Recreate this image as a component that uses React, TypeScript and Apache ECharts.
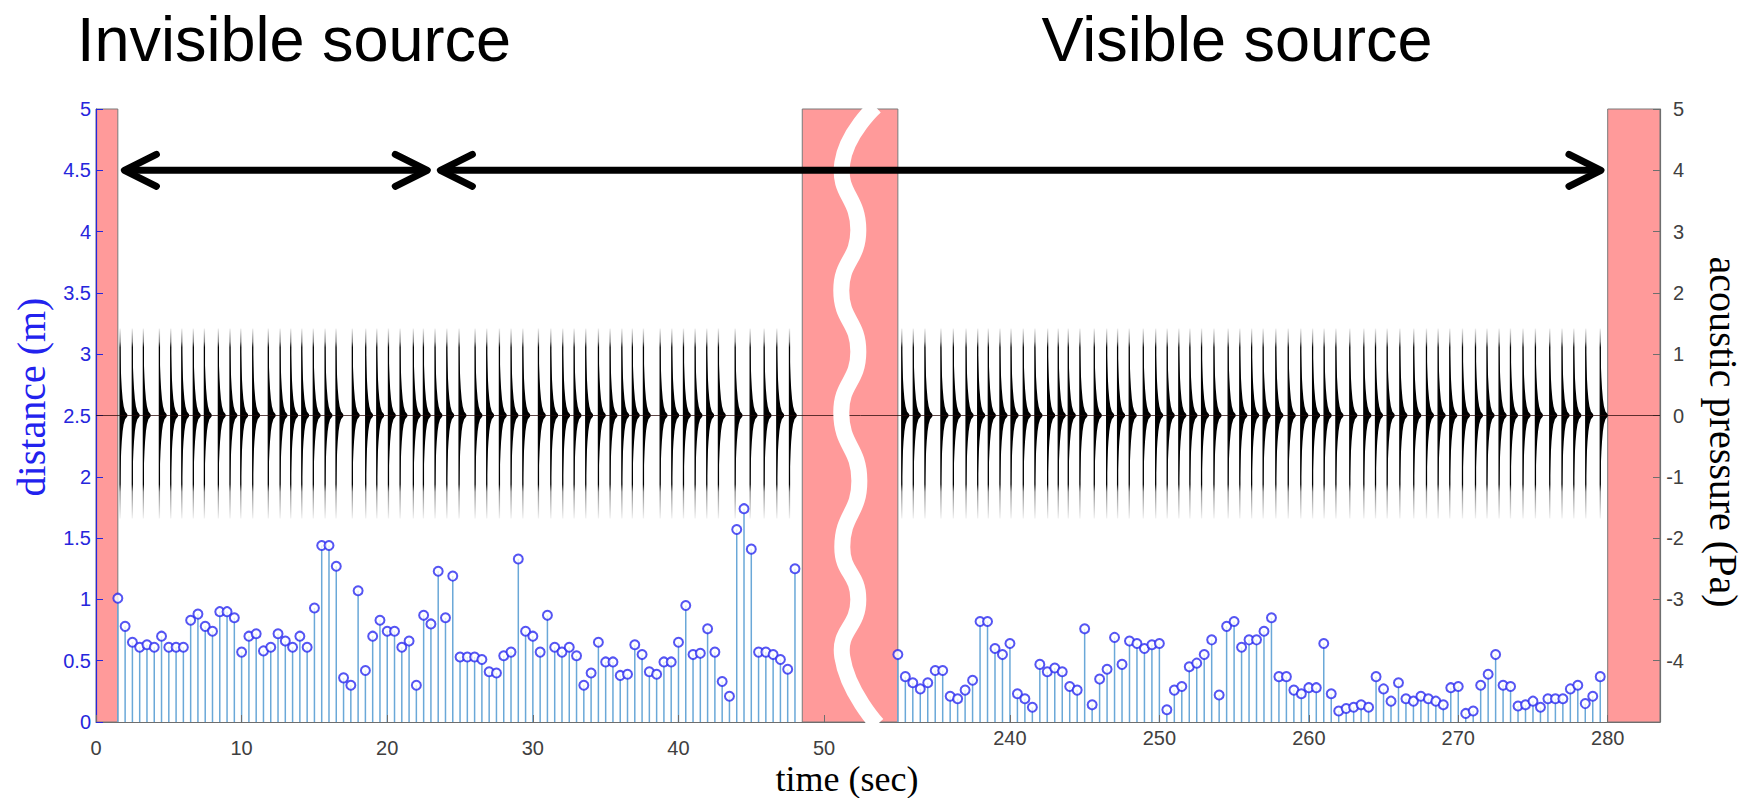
import React, { useEffect, useRef } from "react";
import * as echarts from "echarts";

// ---- data ----
const LEFT_FIRST_TIME = 1.5; // s, first distance sample (invisible source)
const RIGHT_FIRST_TIME = 232.5; // s, first distance sample (visible source)
const SAMPLE_STEP = 0.5; // s between distance samples

const leftDistance = [
  1.01, 0.78, 0.65, 0.61, 0.63, 0.61, 0.7, 0.61, 0.61, 0.61, 0.83, 0.88, 0.78, 0.74, 0.9, 0.9,
  0.85, 0.57, 0.7, 0.72, 0.58, 0.61, 0.72, 0.66, 0.61, 0.7, 0.61, 0.93, 1.44, 1.44, 1.27, 0.36,
  0.3, 1.07, 0.42, 0.7, 0.83, 0.74, 0.74, 0.61, 0.66, 0.3, 0.87, 0.8, 1.23, 0.85, 1.19, 0.53,
  0.53, 0.53, 0.51, 0.41, 0.4, 0.54, 0.57, 1.33, 0.74, 0.7, 0.57, 0.87, 0.61, 0.57, 0.61, 0.54,
  0.3, 0.4, 0.65, 0.49, 0.49, 0.38, 0.39, 0.63, 0.55, 0.41, 0.39, 0.49, 0.49, 0.65, 0.95, 0.55,
  0.56, 0.76, 0.57, 0.33, 0.21, 1.57, 1.74, 1.41, 0.57, 0.57, 0.55, 0.51, 0.43, 1.25,
];

const rightDistance = [
  0.55, 0.37, 0.32, 0.27, 0.32, 0.42, 0.42, 0.21, 0.19, 0.26, 0.34, 0.82, 0.82, 0.6, 0.55, 0.64,
  0.23, 0.19, 0.12, 0.47, 0.41, 0.44, 0.41, 0.29, 0.26, 0.76, 0.14, 0.35, 0.43, 0.69, 0.47, 0.66,
  0.64, 0.6, 0.63, 0.64, 0.1, 0.26, 0.29, 0.45, 0.48, 0.55, 0.67, 0.22, 0.78, 0.82, 0.61, 0.67,
  0.67, 0.74, 0.85, 0.37, 0.37, 0.26, 0.23, 0.28, 0.28, 0.64, 0.23, 0.09, 0.11, 0.12, 0.14, 0.12,
  0.37, 0.27, 0.17, 0.32, 0.19, 0.17, 0.21, 0.19, 0.17, 0.14, 0.28, 0.29, 0.07, 0.09, 0.3, 0.39,
  0.55, 0.3, 0.29, 0.13, 0.14, 0.17, 0.12, 0.19, 0.19, 0.19, 0.27, 0.3, 0.15, 0.21, 0.37,
];

// onset times of the acoustic pulses (s)
const leftPulseTimes = [
  1.65, 2.49, 3.25, 4.35, 5.13, 5.89, 6.68, 7.44, 8.4, 9.2, 9.94, 10.76, 11.83, 12.64, 13.37,
  14.13, 14.92, 15.73, 16.48, 17.6, 18.52, 19.28, 20.08, 20.88, 21.79, 22.48, 23.28, 24.09, 24.93,
  26.03, 26.83, 27.7, 28.5, 29.31, 30.38, 31.23, 32.05, 32.83, 33.63, 34.5, 35.3, 36.11, 36.83,
  37.59, 38.74, 39.54, 40.34, 41.14, 41.94, 42.74, 43.89, 44.92, 45.88, 46.75, 47.62,
];
const rightPulseTimes = [
  232.76, 233.53, 234.31, 235.38, 236.21, 237.06, 237.84, 238.55, 239.33, 240.07, 240.89, 241.67,
  242.52, 243.23, 243.9, 244.68, 245.64, 246.47, 247.2, 247.98, 248.92, 249.75, 250.52, 251.3,
  252.04, 252.82, 253.65, 254.6, 255.38, 256.17, 256.94, 257.79, 258.62, 259.46, 260.25, 261.02,
  261.81, 262.74, 263.68, 264.46, 265.24, 266.09, 267.02, 267.87, 268.65, 269.43, 270.28, 271.15,
  271.92, 272.73, 273.49, 274.33, 275.16, 276.12, 276.94, 277.73, 278.53, 279.5,
];

const leftTimeTicks = [0, 10, 20, 30, 40, 50];
const rightTimeTicks = [240, 250, 260, 270, 280];

// shaded (masked) intervals, in seconds
const leftMask = [0, 1.5];
const middleMask = [48.5, 232.5]; // left-axis start, right-axis end
const rightMask = [280, 283.5];

// double arrows at distance 4.5 m
const ARROW_LEVEL = 4.5;
const arrowInvisible = [1.95, 22.75];
const arrowVisible = [23.65, 279.55];

// axis-break wave (left axis seconds, metres)
const breakWave = [
  [53.52, 5.02], [51.25, 4.56], [52.35, 4.01], [51.18, 3.52], [52.35, 3.02], [51.18, 2.52],
  [52.42, 1.97], [51.25, 1.43], [52.35, 1.0], [51.25, 0.53], [53.66, -0.02],
];

// pulse glyph shape (Pa, s)
const PULSE_TOP = 1.42;
const PULSE_BOTTOM = -1.68;
const CORE_TOP = 1.2;
const CORE_BOTTOM = -1.15;
const PULSE_DECAY = 0.12;
const DECAY_SAMPLES = [0, 0.01, 0.025, 0.05, 0.08, 0.12, 0.18, 0.25, 0.35, 0.5];

// ---- styles ----
const BLUE = "#2626dc";
const STEM = "#6aa8d8";
const MARKER = "#2a2af0";
const GREY = "#6e6e6e";
const LABEL = "#404040";
const PINK = "#ff9a9a";
const SANS = "'Liberation Sans', Arial, sans-serif";
const SERIF = "'Liberation Serif', 'Times New Roman', serif";
const TICK_FONT = 20;

const pulseGradient = new echarts.graphic.LinearGradient(0, 0, 0, 1, [
  { offset: 0, color: "rgba(0,0,0,0.06)" },
  { offset: 0.07, color: "rgba(0,0,0,0.5)" },
  { offset: 0.1, color: "#000" },
  { offset: 0.82, color: "#000" },
  { offset: 0.86, color: "rgba(0,0,0,0.45)" },
  { offset: 1, color: "rgba(0,0,0,0.05)" },
]);

function renderPulse(_params: any, api: any) {
  const t0 = api.value(0);
  const upper = DECAY_SAMPLES.map((d) => api.coord([t0 + d, CORE_TOP * Math.exp(-d / PULSE_DECAY)]));
  const lower = DECAY_SAMPLES.map((d) => api.coord([t0 + d, CORE_BOTTOM * Math.exp(-d / PULSE_DECAY)])).reverse();
  const top = api.coord([t0, PULSE_TOP]);
  const bottom = api.coord([t0, PULSE_BOTTOM]);
  return {
    type: "group",
    children: [
      {
        type: "rect",
        shape: { x: top[0] - 0.6, y: top[1], width: 1.3, height: bottom[1] - top[1] },
        style: { fill: pulseGradient },
      },
      { type: "polygon", shape: { points: upper.concat(lower) }, style: { fill: "#000" } },
    ],
  };
}

function renderStem(_params: any, api: any) {
  const t = api.value(0);
  const p0 = api.coord([t, 0]);
  const p1 = api.coord([t, api.value(1)]);
  return {
    type: "line",
    shape: { x1: p0[0], y1: p0[1], x2: p1[0], y2: p1[1] },
    style: { stroke: STEM, lineWidth: 1.5 },
  };
}

function buildOption() {
  const leftData = leftDistance.map((v, i) => [LEFT_FIRST_TIME + i * SAMPLE_STEP, v]);
  const rightData = rightDistance.map((v, i) => [RIGHT_FIRST_TIME + i * SAMPLE_STEP, v]);
  const zeroLine = {
    silent: true,
    symbol: ["none", "none"],
    label: { show: false },
    lineStyle: { color: "rgba(40,10,10,0.75)", width: 1, type: "solid" },
    data: [{ yAxis: 0 }],
  };
  const xCommon = {
    type: "value",
    z: 3,
    splitLine: { show: false },
    axisLine: { lineStyle: { color: GREY, width: 1.2 } },
  };
  return {
    animation: false,
    backgroundColor: "#fff",
    grid: [
      { left: 96, top: 109, width: 764.5, height: 613 },
      { left: 860.5, top: 109, width: 799.5, height: 613 },
    ],
    xAxis: [
      {
        ...xCommon,
        gridIndex: 0,
        min: 0,
        max: 52.5,
        axisTick: { inside: true, length: 7, customValues: leftTimeTicks, lineStyle: { color: GREY } },
        axisLabel: { customValues: leftTimeTicks, color: LABEL, fontSize: TICK_FONT, fontFamily: SANS, margin: 16 },
      },
      {
        ...xCommon,
        gridIndex: 1,
        min: 230,
        max: 283.5,
        axisTick: { inside: true, length: 7, customValues: rightTimeTicks, lineStyle: { color: GREY } },
        axisLabel: { customValues: rightTimeTicks, color: LABEL, fontSize: TICK_FONT, fontFamily: SANS, margin: 6 },
      },
    ],
    yAxis: [
      {
        type: "value",
        gridIndex: 0,
        position: "left",
        min: 0,
        max: 5,
        interval: 0.5,
        z: 3,
        splitLine: { show: false },
        axisLine: { show: true, lineStyle: { color: BLUE, width: 1.2 } },
        axisTick: { show: true, inside: true, length: 7, lineStyle: { color: BLUE } },
        axisLabel: { color: BLUE, fontSize: TICK_FONT, fontFamily: SANS, margin: 5 },
      },
      { type: "value", gridIndex: 0, min: -5, max: 5, show: false, splitLine: { show: false } },
      { type: "value", gridIndex: 1, position: "left", min: 0, max: 5, show: false, splitLine: { show: false } },
      {
        type: "value",
        gridIndex: 1,
        position: "right",
        min: -5,
        max: 5,
        interval: 1,
        z: 3,
        splitLine: { show: false },
        axisLine: { show: true, lineStyle: { color: GREY, width: 1.2 } },
        axisTick: { show: true, inside: true, length: 7, lineStyle: { color: GREY } },
        axisLabel: {
          color: LABEL,
          fontSize: TICK_FONT,
          fontFamily: SANS,
          margin: 24,
          align: "right",
          showMinLabel: false,
        },
      },
    ],
    series: [
      {
        type: "custom",
        name: "pressure-invisible",
        xAxisIndex: 0,
        yAxisIndex: 1,
        renderItem: renderPulse,
        data: leftPulseTimes.map((t) => [t, 0]),
        markLine: zeroLine,
        z: 2,
      },
      {
        type: "custom",
        name: "pressure-visible",
        xAxisIndex: 1,
        yAxisIndex: 3,
        renderItem: renderPulse,
        data: rightPulseTimes.map((t) => [t, 0]),
        markLine: zeroLine,
        z: 2,
      },
      { type: "custom", xAxisIndex: 0, yAxisIndex: 0, renderItem: renderStem, data: leftData, z: 2 },
      { type: "custom", xAxisIndex: 1, yAxisIndex: 2, renderItem: renderStem, data: rightData, z: 2 },
      {
        type: "scatter",
        xAxisIndex: 0,
        yAxisIndex: 0,
        data: leftData,
        symbol: "circle",
        symbolSize: 9,
        itemStyle: { color: "#fff", borderColor: MARKER, borderWidth: 2 },
        z: 4,
      },
      {
        type: "scatter",
        xAxisIndex: 1,
        yAxisIndex: 2,
        data: rightData,
        symbol: "circle",
        symbolSize: 9,
        itemStyle: { color: "#fff", borderColor: MARKER, borderWidth: 2 },
        z: 4,
      },
    ],
  };
}

function arrowElements(xa: number, xb: number, y: number) {
  const st = { stroke: "#000", lineWidth: 7, lineJoin: "round", lineCap: "round", fill: null };
  return [
    { type: "line", z: 60, shape: { x1: xa + 2, y1: y, x2: xb - 2, y2: y }, style: { stroke: "#000", lineWidth: 7 } },
    { type: "polyline", z: 60, shape: { points: [[xa + 32, y - 16], [xa, y], [xa + 32, y + 16]] }, style: st },
    { type: "polyline", z: 60, shape: { points: [[xb - 32, y - 16], [xb, y], [xb - 32, y + 16]] }, style: st },
  ];
}

function text(x: number, y: number, str: string, font: string, fill: string, rotation = 0) {
  return {
    type: "text",
    x,
    y,
    rotation,
    z: 60,
    style: {
      text: str,
      font,
      fill,
      align: "center",
      verticalAlign: "middle",
      textAlign: "center",
      textVerticalAlign: "middle",
    },
  };
}

export default function App() {
  const ref = useRef<HTMLDivElement>(null);
  useEffect(() => {
    const el = ref.current;
    if (!el) return;
    const chart = echarts.init(el, null, { renderer: "svg" });
    chart.setOption(buildOption());

    const pL = (x: number, y: number) => chart.convertToPixel({ xAxisIndex: 0, yAxisIndex: 0 }, [x, y]) as number[];
    const pR = (x: number, y: number) => chart.convertToPixel({ xAxisIndex: 1, yAxisIndex: 2 }, [x, y]) as number[];

    const rectFrom = (a: number[], b: number[]) => ({
      type: "rect",
      z: 1,
      shape: { x: a[0], y: a[1], width: b[0] - a[0], height: b[1] - a[1] },
      style: { fill: PINK, stroke: "#7a7a7a", lineWidth: 1 },
    });

    const lTop = pL(leftMask[0], 5);
    const lBot = pL(leftMask[1], 0);
    const mTop = pL(middleMask[0], 5);
    const mBot = pR(middleMask[1], 0);
    const rTop = pR(rightMask[0], 5);
    const rBot = pR(rightMask[1], 0);

    const wave = breakWave.map(([x, y]) => pL(x, y));
    const ay = pL(0, ARROW_LEVEL)[1];
    const a1 = [pL(arrowInvisible[0], ARROW_LEVEL)[0], pL(arrowInvisible[1], ARROW_LEVEL)[0]];
    const a2 = [pL(arrowVisible[0], ARROW_LEVEL)[0], pR(arrowVisible[1], ARROW_LEVEL)[0]];

    chart.setOption({
      graphic: {
        elements: [
          rectFrom(lTop, lBot),
          rectFrom(mTop, mBot),
          rectFrom(rTop, rBot),
          {
            type: "polyline",
            z: 50,
            shape: { points: wave, smooth: 0.5 },
            style: { stroke: "#fff", lineWidth: 16, fill: null },
          },
          ...arrowElements(a1[0], a1[1], ay),
          ...arrowElements(a2[0], a2[1], ay),
          text(294, 39, "Invisible source", `63px ${SANS}`, "#000"),
          text(1237, 39, "Visible source", `63px ${SANS}`, "#000"),
          text(31, 397, "distance (m)", `40px ${SERIF}`, "#2222ee", Math.PI / 2),
          text(1723, 432, "acoustic pressure (Pa)", `40px ${SERIF}`, "#000", -Math.PI / 2),
          text(847, 779, "time (sec)", `36px ${SERIF}`, "#000"),
        ],
      },
    });

    return () => chart.dispose();
  }, []);
  return (
    <div
      ref={ref}
      style={{ position: "fixed", left: 0, top: 0, width: 1750, height: 798, background: "#fff" }}
    />
  );
}
